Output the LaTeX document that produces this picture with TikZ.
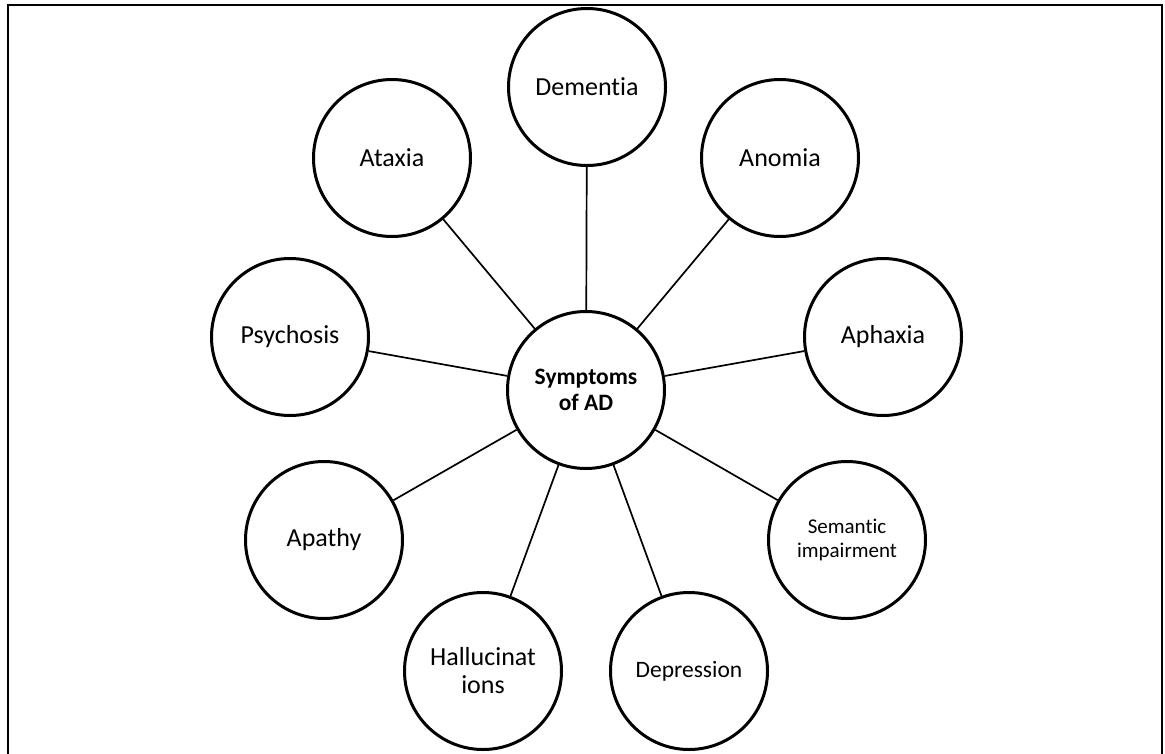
\documentclass[tikz,border=0pt]{standalone}
\usepackage{fontspec}
\setmainfont{Carlito}[Ligatures={NoCommon}]
\tikzset{
  symp/.style={circle, draw, line width=3pt, minimum size=157pt, inner sep=0pt,
    align=center, font=\fontsize{26}{28}\selectfont},
  link/.style={line width=1.7pt},
  frame/.style={line width=1.2pt}
}
\begin{document}
\begin{tikzpicture}[x=1pt,y=-1pt]
\useasboundingbox (0,0) rectangle (1165,753);
\draw[frame] (8,760) -- (8,5) -- (1162,5) -- (1162,760);
\node[symp, font=\bfseries\fontsize{23.5}{26}\selectfont] (c) at (586,390) {Symptoms\\of AD};
\node[symp] (dem) at (587,87) {Dementia};
\node[symp] (ata) at (392,158) {Ataxia};
\node[symp] (ano) at (780,158) {Anomia};
\node[symp] (psy) at (290,337) {Psychosis};
\node[symp] (aph) at (883,337) {Aphaxia};
\node[symp] (apa) at (324,540) {Apathy};
\node[symp, font=\fontsize{21}{24}\selectfont] (sem) at (847,540) {Semantic\\impairment};
\node[symp] (hal) at (483,671) {Hallucinat\\ions};
\node[symp, font=\fontsize{23.5}{26}\selectfont] (dep) at (689,671) {Depression};
\foreach \n in {dem,ata,ano,psy,aph,apa,sem,hal,dep}
  \draw[link] (c) -- (\n);
\end{tikzpicture}
\end{document}
